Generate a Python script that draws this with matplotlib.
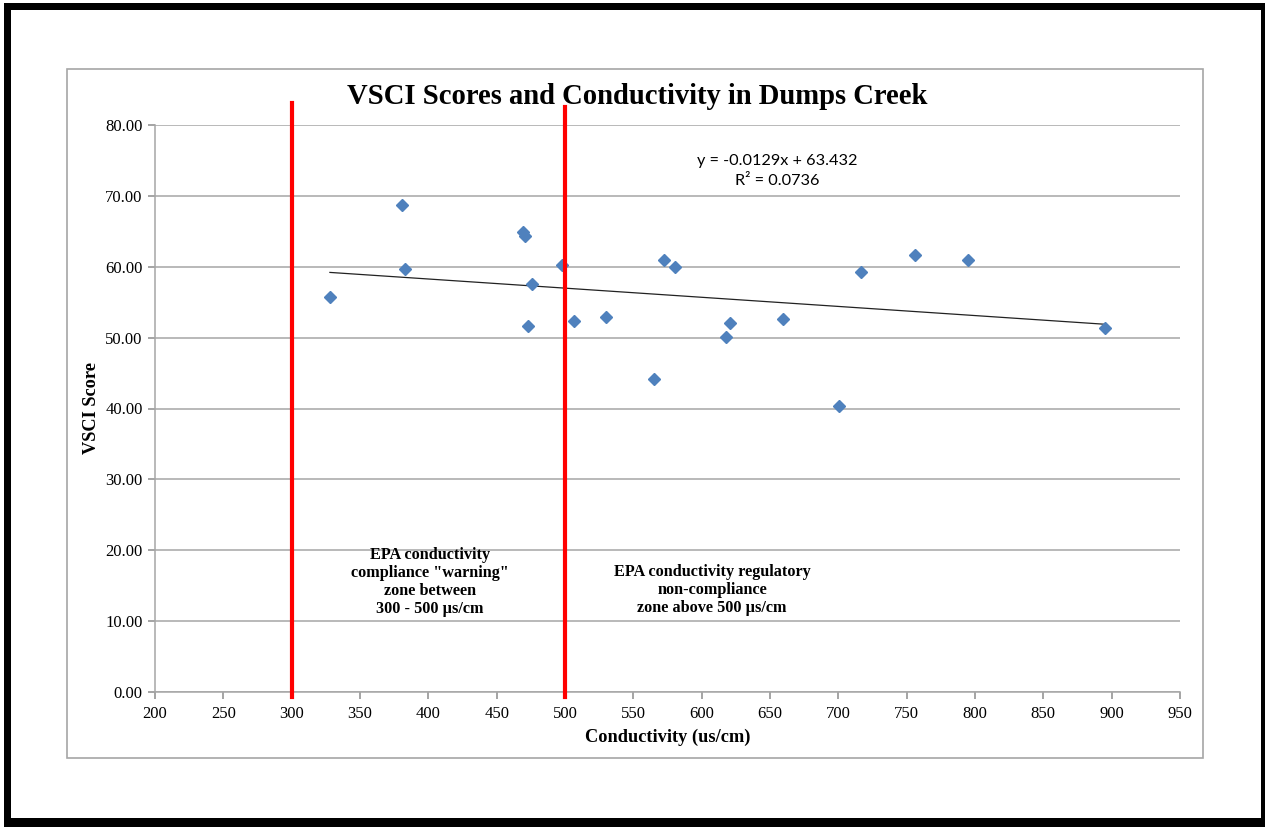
import matplotlib
matplotlib.use("Agg")
import matplotlib.pyplot as plt
from matplotlib.patches import Rectangle

# conductivity (us/cm) and VSCI score
conductivity = [328, 381, 383, 469.5, 471, 472.6, 476, 497.5, 506.5, 530,
                565, 572.7, 580.7, 617.8, 620.7, 659.7, 700.6, 716.5, 756, 795, 895]
vsci = [55.7, 68.7, 59.7, 64.9, 64.3, 51.7, 57.6, 60.2, 52.4, 52.9,
        44.2, 61.0, 60.0, 50.1, 52.1, 52.6, 40.3, 59.3, 61.7, 61.0, 51.3]

# Excel linear trendline
slope = -0.0129
intercept = 63.432
r2 = 0.0736

# EPA limits
limits = [300, 500]
limit_tops = [83.1, 82.5]

W, H = 1265, 827
fig = plt.figure(figsize=(W / 100, H / 100), dpi=100)
serif = "Liberation Serif"

# black picture frame and white inner area
fig.patches.append(Rectangle((4 / W, 0), 1 - 4 / W, 1 - 3 / H, transform=fig.transFigure,
                             facecolor="black", edgecolor="none", zorder=-3))
fig.patches.append(Rectangle((11 / W, 1 - 818 / H), 1250 / W, 808 / H, transform=fig.transFigure,
                             facecolor="white", edgecolor="none", zorder=-2))
# chart area border
fig.patches.append(Rectangle((67 / W, 1 - 758 / H), 1136 / W, 689 / H, transform=fig.transFigure,
                             facecolor="white", edgecolor="#a6a6a6", lw=1.2, zorder=-1))

ax = fig.add_axes([155 / W, 1 - 692 / H, 1025 / W, 567 / H])
ax.set_facecolor("none")

ax.set_xlim(200, 950)
ax.set_ylim(0, 80)
ax.set_xticks(range(200, 951, 50))
ax.set_yticks(range(0, 81, 10))
ax.set_yticklabels([f"{v:.2f}" for v in range(0, 81, 10)])
for lab in ax.get_xticklabels() + ax.get_yticklabels():
    lab.set_fontfamily(serif)
    lab.set_fontsize(12)
ax.tick_params(colors="#8c8c8c", labelcolor="black", length=5, width=1.1, direction="out")
ax.tick_params(axis="x", pad=5)
ax.tick_params(axis="y", pad=4)
ax.grid(axis="y", color="#a6a6a6", lw=1.1)
ax.set_axisbelow(True)
for s in ["top", "right"]:
    ax.spines[s].set_visible(False)
for s in ["left", "bottom"]:
    ax.spines[s].set_color("#a6a6a6")
    ax.spines[s].set_linewidth(1.1)

# trendline over the data range
x0, x1 = min(conductivity), max(conductivity)
ax.plot([x0, x1], [slope * x0 + intercept, slope * x1 + intercept], color="#222222", lw=0.9, zorder=2)

ax.plot(conductivity, vsci, linestyle="none", marker="D", markersize=6.3,
        color="#4f81bd", markeredgecolor="#4f81bd", zorder=3)

for xv, top in zip(limits, limit_tops):
    ax.plot([xv, xv], [-0.7, top], color="#ff0000", lw=3, clip_on=False, zorder=4)

ax.text(655.5, 73.5, f"y = {slope}x + {intercept}\nR² = {r2}", ha="center", va="center",
        family="Lato", fontsize=11.7, linespacing=1.55)

ax.text(401, 15.5, 'EPA conductivity\ncompliance "warning"\nzone between\n300 - 500 µs/cm',
        ha="center", va="center", family=serif, fontweight="bold", fontsize=11.7, linespacing=1.16)
ax.text(607.6, 14.4, "EPA conductivity regulatory\nnon-compliance\nzone above 500 µs/cm",
        ha="center", va="center", family=serif, fontweight="bold", fontsize=11.7, linespacing=1.16)

fig.text(637 / W, 1 - 96 / H, "VSCI Scores and Conductivity in Dumps Creek", ha="center", va="center",
         family=serif, fontweight="bold", fontsize=20.6)
fig.text(91.5 / W, 1 - 408 / H, "VSCI Score", ha="center", va="center", rotation=90,
         family=serif, fontweight="bold", fontsize=13.2)
fig.text(667.5 / W, 1 - 737 / H, "Conductivity (us/cm)", ha="center", va="center",
         family=serif, fontweight="bold", fontsize=13.2)

fig.savefig("out.png", dpi=100)
